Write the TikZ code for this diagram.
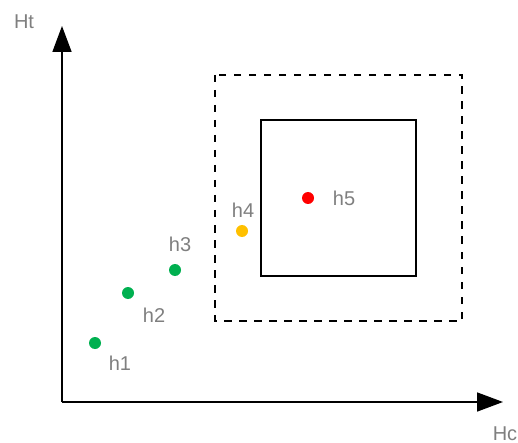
\documentclass[tikz,border=0pt]{standalone}
\usepackage{fontspec}
\setmainfont{Liberation Sans}
\usetikzlibrary{arrows.meta}
\definecolor{labelgray}{HTML}{7F7F7F}
\definecolor{ptgreen}{HTML}{00B050}
\definecolor{ptamber}{HTML}{FFC000}
\definecolor{ptred}{HTML}{FF0000}
\begin{document}
\begin{tikzpicture}[x=1pt,y=-1pt,
  axis/.style={line width=1.6pt,-{Triangle[length=26pt,width=19pt]}},
  lbl/.style={text=labelgray,font=\fontsize{20}{20}\selectfont,inner sep=0pt},
  pt/.style={circle,inner sep=0pt,minimum size=12pt},
  region/.style={line width=1.6pt},
  outerregion/.style={line width=1.4pt,dash pattern=on 7.5pt off 7.5pt}]
\useasboundingbox (0,0) rectangle (518,443);
% axes
\coordinate (o) at (62,402);
\coordinate (ytop) at (62,26);
\coordinate (xend) at (503,402);
\draw[axis] (o) -- (ytop);
\draw[axis] (o) -- (xend);
\node[lbl] (ht) at (24,22) {Ht};
\node[lbl] (hc) at (505,434) {Hc};
% regions
\draw[outerregion] (215,75) rectangle (462,321);
\draw[region] (261,120) rectangle (416,276);
% points
\node[pt,fill=ptgreen] (p1) at (95,343) {};
\node[pt,fill=ptgreen] (p2) at (128,293) {};
\node[pt,fill=ptgreen] (p3) at (175,270) {};
\node[pt,fill=ptamber] (p4) at (242,231) {};
\node[pt,fill=ptred] (p5) at (308,198) {};
\node[lbl] (l1) at (120,363) {h1};
\node[lbl] (l2) at (154,315) {h2};
\node[lbl] (l3) at (180,244) {h3};
\node[lbl] (l4) at (243,210) {h4};
\node[lbl] (l5) at (344,198) {h5};
\end{tikzpicture}
\end{document}
